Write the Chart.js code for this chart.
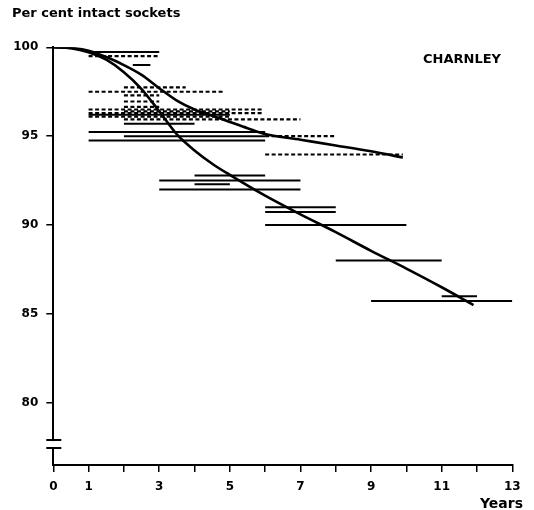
<!DOCTYPE html>
<html>
<head>
<meta charset="utf-8">
<script src="https://cdn.jsdelivr.net/npm/chart.js@4.4.1/dist/chart.umd.min.js"></script>
<style>
  body { margin: 0; background: #fff; }
  #wrap { width: 534px; height: 510px; }
</style>
</head>
<body>
<div id="wrap"><canvas id="chart" width="534" height="510"></canvas></div>
<script>
// survival curves (years, per cent intact)
const upperYears = [0, 0.5, 1, 1.5, 2, 2.5, 3, 3.5, 4, 4.5, 5, 5.5, 6, 7, 8, 9, 9.9];
const upperValues = [100, 99.97, 99.8, 99.45, 99.0, 98.45, 97.7, 97.0, 96.5, 96.15, 95.8, 95.45, 95.12, 94.8, 94.48, 94.15, 93.8];
const lowerYears = [0, 0.5, 1, 1.5, 2, 2.5, 3, 3.5, 4, 4.5, 5, 6, 7, 8, 9, 10, 11, 11.9];
const lowerValues = [100, 99.95, 99.72, 99.3, 98.6, 97.65, 96.4, 95.1, 94.2, 93.45, 92.82, 91.65, 90.6, 89.6, 88.55, 87.55, 86.5, 85.5];

// individual series results, solid bars
const solidValue = [99.74, 99.0, 96.2, 95.7, 95.23, 95.0, 94.76, 92.79, 92.5, 92.29, 92.0, 91.0, 90.73, 90.0, 88.0, 86.0, 85.73];
const solidFrom  = [1, 2.25, 1, 2, 1, 2, 1, 4, 3, 4, 3, 6, 6, 6, 8, 11, 9];
const solidTo    = [3, 2.75, 5, 4, 6, 6, 6, 6, 7, 5, 7, 8, 8, 10, 11, 12, 13];

// individual series results, dashed bars
const dashedValue = [99.5, 97.75, 97.5, 97.3, 96.95, 96.65, 96.5, 96.4, 96.3, 96.1, 95.95, 95.0, 93.97];
const dashedFrom  = [1, 2, 1, 2, 2, 2, 1, 2, 1, 1, 2, 6, 6];
const dashedTo    = [3, 3.75, 4.85, 3, 3, 3, 5.9, 5, 5.9, 5, 7, 8, 9.9];

const xTickValues = [0, 1, 2, 3, 4, 5, 6, 7, 8, 9, 10, 11, 12, 13];
const xTickLabels = [0, 1, 3, 5, 7, 9, 11, 13];
const yTickValues = [80, 85, 90, 95, 100];
const yBreak = [77.9, 77.45];

const FONT = "'DejaVu Sans', 'Liberation Sans', Arial, sans-serif";

function bar(v, from, to, dashed) {
  return {
    data: [{ x: from, y: v }, { x: to, y: v }],
    showLine: true,
    borderColor: '#000',
    borderWidth: dashed ? 2.2 : 2,
    borderDash: dashed ? [4, 2.5] : [],
    pointRadius: 0,
  };
}

const datasets = [
  ...solidValue.map((v, i) => bar(v, solidFrom[i], solidTo[i], false)),
  ...dashedValue.map((v, i) => bar(v, dashedFrom[i], dashedTo[i], true)),
];

datasets.push({
  data: upperYears.map((x, i) => ({ x, y: upperValues[i] })),
  showLine: true,
  borderColor: '#000',
  borderWidth: 2.6,
  cubicInterpolationMode: 'monotone',
  pointRadius: 0,
});
datasets.push({
  data: lowerYears.map((x, i) => ({ x, y: lowerValues[i] })),
  showLine: true,
  borderColor: '#000',
  borderWidth: 2.6,
  cubicInterpolationMode: 'monotone',
  pointRadius: 0,
});

const decorations = {
  id: 'decorations',
  afterDraw(chart) {
    const { ctx } = chart;
    const y = chart.scales.y;
    const ax = y.right;
    const top = y.getPixelForValue(yBreak[0]);
    const bot = y.getPixelForValue(yBreak[1]);
    ctx.save();
    ctx.fillStyle = '#fff';
    ctx.fillRect(ax - 3, top + 1, 6, bot - top - 2);
    ctx.strokeStyle = '#000';
    ctx.lineWidth = 2;
    ctx.beginPath();
    ctx.moveTo(ax - 7, top); ctx.lineTo(ax + 8, top);
    ctx.moveTo(ax - 7, bot); ctx.lineTo(ax + 8, bot);
    ctx.stroke();

    ctx.fillStyle = '#000';
    ctx.textBaseline = 'middle';
    ctx.textAlign = 'left';
    ctx.font = 'bold 13px ' + FONT;
    ctx.fillText('Per cent intact sockets', 12, 14);
    ctx.textAlign = 'right';
    ctx.fillText('CHARNLEY', 501, 60);
    ctx.font = 'bold 14px ' + FONT;
    ctx.fillText('Years', 523, 504);
    ctx.restore();
  }
};

new Chart(document.getElementById('chart'), {
  type: 'scatter',
  data: { datasets },
  plugins: [decorations],
  options: {
    responsive: false,
    animation: false,
    layout: { padding: { left: 0, right: 21.7, top: 47.3, bottom: 0 } },
    plugins: { legend: { display: false }, tooltip: { enabled: false } },
    scales: {
      x: {
        type: 'linear',
        min: 0,
        max: 13,
        afterBuildTicks: (scale) => { scale.ticks = xTickValues.map((v) => ({ value: v })); },
        afterFit: (scale) => { scale.height = 45; },
        ticks: {
          autoSkip: false,
          maxRotation: 0,
          padding: 8,
          color: '#000',
          font: { family: FONT, size: 12, weight: 'bold' },
          callback: (v) => (xTickLabels.includes(v) ? String(v) : ''),
        },
        grid: { drawOnChartArea: false, drawTicks: true, tickLength: 7, color: '#000', lineWidth: 1.5 },
        border: { display: true, color: '#000', width: 2 },
      },
      y: {
        type: 'linear',
        min: 76.5,
        max: 100,
        afterBuildTicks: (scale) => { scale.ticks = yTickValues.map((v) => ({ value: v })); },
        afterFit: (scale) => { scale.width = 53.3; },
        ticks: {
          padding: 8,
          color: '#000',
          font: { family: FONT, size: 12, weight: 'bold' },
        },
        grid: { drawOnChartArea: false, drawTicks: true, tickLength: 7, color: '#000', lineWidth: 1.5 },
        border: { display: true, color: '#000', width: 2 },
      },
    },
  },
});
</script>
</body>
</html>
